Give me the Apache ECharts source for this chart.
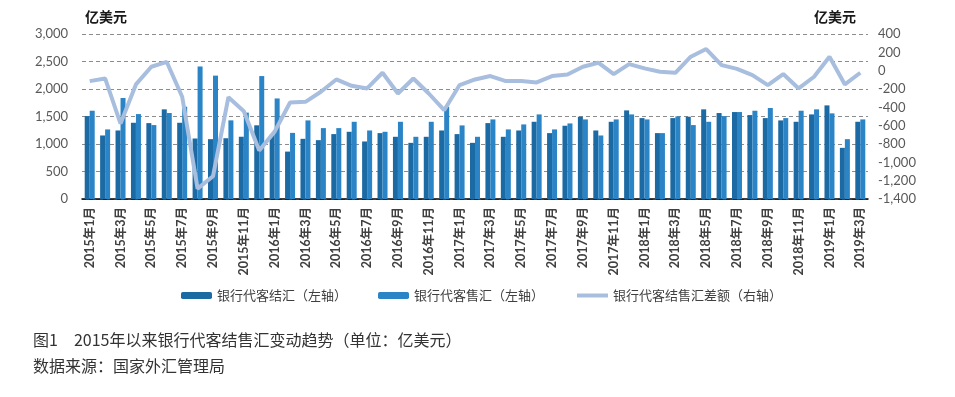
<!DOCTYPE html>
<html>
<head>
<meta charset="utf-8">
<script src="https://cdn.jsdelivr.net/npm/echarts@6/dist/echarts.min.js"></script>
<style>
html,body{margin:0;padding:0;background:#fff;}
#chart{width:955px;height:397px;}
</style>
</head>
<body>
<div id="chart"></div>
<script>
const categories = [
  '2015年1月','2015年2月','2015年3月','2015年4月','2015年5月','2015年6月','2015年7月','2015年8月','2015年9月','2015年10月','2015年11月','2015年12月',
  '2016年1月','2016年2月','2016年3月','2016年4月','2016年5月','2016年6月','2016年7月','2016年8月','2016年9月','2016年10月','2016年11月','2016年12月',
  '2017年1月','2017年2月','2017年3月','2017年4月','2017年5月','2017年6月','2017年7月','2017年8月','2017年9月','2017年10月','2017年11月','2017年12月',
  '2018年1月','2018年2月','2018年3月','2018年4月','2018年5月','2018年6月','2018年7月','2018年8月','2018年9月','2018年10月','2018年11月','2018年12月',
  '2019年1月','2019年2月','2019年3月'
];
// 银行代客结汇（左轴）
const settlement = [
  1508,1155,1246,1386,1380,1630,1386,1100,1088,1105,1132,1340,
  1170,862,1094,1070,1180,1222,1046,1198,1131,1021,1131,1246,
  1180,1021,1380,1131,1246,1404,1198,1332,1496,1246,1404,1611,
  1471,1198,1471,1496,1630,1563,1581,1526,1471,1429,1404,1538,
  1702,930,1404
];
// 银行代客售汇（左轴）
const sales = [
  1605,1265,1836,1544,1344,1563,1678,2408,2243,1430,1570,2235,
  1828,1202,1429,1289,1289,1404,1246,1222,1404,1131,1404,1678,
  1338,1131,1447,1265,1356,1538,1265,1374,1447,1155,1447,1538,
  1447,1198,1502,1344,1404,1508,1581,1605,1654,1471,1605,1630,
  1557,1088,1447
];
// 银行代客结售汇差额（右轴）
const balance = [
  -114,-85,-577,-150,43,95,-285,-1287,-1152,-289,-442,-870,
  -665,-347,-340,-230,-96,-165,-194,-23,-249,-85,-249,-431,
  -157,-96,-59,-114,-114,-128,-59,-41,43,87,-37,72,
  25,-12,-23,152,236,60,20,-48,-157,-37,-194,-66,
  152,-150,-23
];
const seriesNames = ['银行代客结汇（左轴）','银行代客售汇（左轴）','银行代客结售汇差额（右轴）'];
const unitLabel = '亿美元';
const captionTitle = '图1　2015年以来银行代客结售汇变动趋势（单位：亿美元）';
const captionSource = '数据来源：国家外汇管理局';

const numFont = 'Lato, "Noto Sans CJK SC", sans-serif';
const cjkFont = '"Noto Sans CJK SC", sans-serif';
const fmt = v => (v < 0 ? '-' : '') + Math.abs(v).toString().replace(/\B(?=(\d{3})+(?!\d))/g, ',');

const chart = echarts.init(document.getElementById('chart'), null, {renderer: 'canvas'});
chart.setOption({
  animation: false,
  backgroundColor: '#ffffff',
  grid: {left: 82, right: 87, top: 34, bottom: 198, containLabel: false},
  legend: {
    data: [
      seriesNames[0],
      seriesNames[1],
      {name: seriesNames[2], itemStyle: {opacity: 0}, lineStyle: {width: 4, color: '#a8bedf'}}
    ],
    left: 176, top: 284,
    itemWidth: 31, itemHeight: 7, itemGap: 31,
    textStyle: {fontFamily: cjkFont, fontSize: 13, color: '#404040'}
  },
  xAxis: {
    type: 'category',
    data: categories,
    boundaryGap: true,
    axisLine: {show: true, lineStyle: {color: '#000000', width: 1.5}},
    axisTick: {show: false},
    axisLabel: {interval: 1, rotate: 90, margin: 8, fontFamily: numFont, fontSize: 12.5, fontWeight: 'bold', color: '#404040'}
  },
  yAxis: [
    {
      type: 'value', min: 0, max: 3000, interval: 500,
      axisLine: {show: false}, axisTick: {show: false},
      axisLabel: {margin: 14, fontFamily: numFont, fontSize: 13, color: '#595959', formatter: fmt},
      splitLine: {show: true, lineStyle: {color: '#8c8c8c', type: [4, 3], width: 1}}
    },
    {
      type: 'value', min: -1400, max: 400, interval: 200,
      axisLine: {show: false}, axisTick: {show: false},
      axisLabel: {margin: 10, fontFamily: numFont, fontSize: 13, color: '#595959', formatter: fmt},
      splitLine: {show: false}
    }
  ],
  series: [
    {name: seriesNames[0], type: 'bar', yAxisIndex: 0, data: settlement, barWidth: 5, barGap: '0%',
     itemStyle: {color: '#1c6aa4'}},
    {name: seriesNames[1], type: 'bar', yAxisIndex: 0, data: sales, barWidth: 5, barGap: '0%',
     itemStyle: {color: '#2a84c6'}},
    {name: seriesNames[2], type: 'line', yAxisIndex: 1, data: balance, symbol: 'none', smooth: false,
     lineStyle: {color: '#a8bedf', width: 4}, itemStyle: {color: '#a8bedf'}, z: 5}
  ],
  graphic: [
    {type: 'text', left: 85, top: 10, style: {text: unitLabel, fontFamily: cjkFont, fontSize: 14, fontWeight: 'bold', fill: '#1a1a1a'}},
    {type: 'text', left: 814, top: 10, style: {text: unitLabel, fontFamily: cjkFont, fontSize: 14, fontWeight: 'bold', fill: '#1a1a1a'}},
    {type: 'text', left: 33, top: 332, style: {text: captionTitle, fontFamily: cjkFont, fontSize: 16, fill: '#333333'}},
    {type: 'text', left: 33, top: 358, style: {text: captionSource, fontFamily: cjkFont, fontSize: 16, fill: '#333333'}}
  ]
});
</script>
</body>
</html>
